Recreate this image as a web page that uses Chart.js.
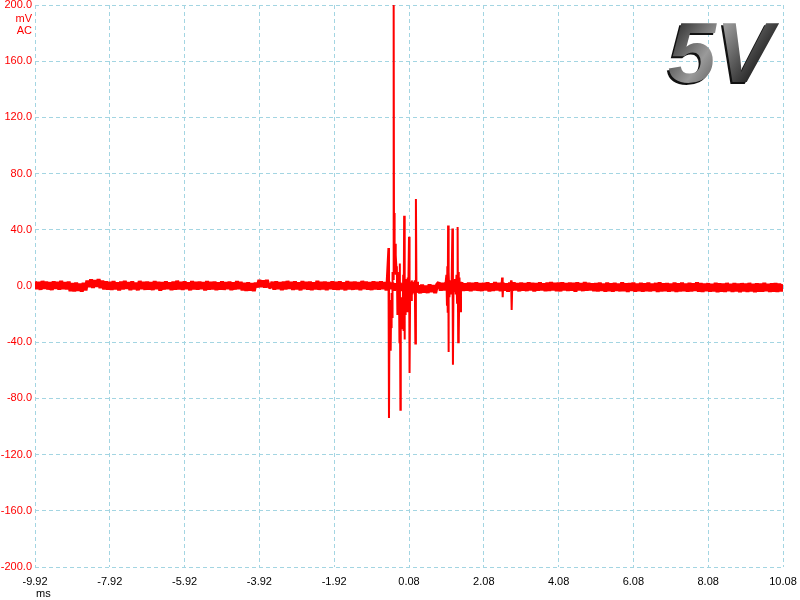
<!DOCTYPE html>
<html>
<head>
<meta charset="utf-8">
<script src="https://cdn.jsdelivr.net/npm/chart.js@4/dist/chart.umd.min.js"></script>
<style>
  html, body { margin: 0; padding: 0; background: #fff; }
  #wrap { width: 800px; height: 600px; }
</style>
</head>
<body>
<div id="wrap"><canvas id="chart" width="800" height="600"></canvas></div>
<script>
// sweep: one sample every 0.05 ms starting at -9.92 ms
const startMs = -9.92;
const stepMs = 0.05;

// channel A, mV
const trace = [
  3.2,-2.1,2.8,-2.6,3.5,-1.9,3.0,-2.4,2.6,-2.8,3.3,-2.0,2.9,-2.5,3.6,-2.2,2.7,-2.3,3.1,-3.6,
  1.9,-3.7,2.3,-3.4,1.6,-3.9,2.1,-3.1,3.9,-0.7,4.6,-1.2,4.1,-0.4,4.8,-1.4,3.7,-2.3,3.2,-2.6,
  2.9,-2.7,3.4,-2.2,2.5,-3.1,3.0,-2.4,3.6,-2.0,2.7,-2.9,3.2,-2.3,2.4,-3.0,3.5,-2.1,2.8,-2.6,
  3.1,-2.5,2.6,-2.8,3.4,-2.2,2.9,-3.2,2.7,-2.4,3.3,-2.0,2.5,-2.9,3.0,-2.6,3.7,-2.3,2.8,-2.7,
  3.2,-2.1,2.6,-3.0,3.5,-2.4,2.9,-2.6,3.1,-2.2,2.7,-3.1,3.4,-2.5,2.8,-2.3,3.0,-2.8,2.5,-2.4,
  3.3,-2.6,2.7,-2.2,3.1,-2.9,2.6,-2.4,3.4,-2.1,2.9,-3.1,2.2,-3.5,2.5,-3.2,2.0,-3.6,2.3,-0.8,
  4.2,-0.6,3.9,-1.0,4.3,-0.5,-0.9,2.9,-2.6,3.3,-2.2,2.7,-2.9,3.1,-2.4,3.5,-2.0,2.8,-2.7,3.2,
  -2.3,2.6,-3.0,3.4,-2.1,2.9,-2.5,3.0,-2.8,2.5,-2.2,3.6,-2.6,2.8,-2.4,3.1,-2.9,2.7,-2.1,3.3,
  -2.5,2.9,-2.7,3.2,-2.2,2.6,-3.0,3.4,-2.4,2.8,-2.6,3.1,-2.3,2.7,-2.9,3.5,-2.1,3.0,-2.5,2.6,
  -2.8,3.2,-2.3,2.9,-2.6,3.3,-2.2,2.7,-3.0,3.1,-2.0,2.4,-3.2,1.8,-2.6,2.2,-3.4,1.5,-2.8,2.0,
  -3.1,0.6,-4.8,1.0,-4.4,0.4,-5.1,0.9,-4.6,0.2,-4.9,1.1,-4.3,0.5,-5.0,0.8,2.4,-3.2,2.1,-3.0,
  2.6,-3.5,1.9,-3.1,2.3,-3.7,2.0,-2.9,2.5,-3.4,1.8,-3.2,2.4,-3.6,2.1,-3.0,2.6,-3.3,1.9,-3.5,
  2.2,-3.1,2.5,-3.8,1.9,-3.4,2.7,-3.0,2.1,-3.6,2.4,-3.2,1.8,-3.9,2.3,-3.3,2.6,-3.0,2.0,-3.7,
  2.4,-3.2,1.9,-3.5,2.6,-3.1,2.2,-3.8,2.0,-3.3,2.5,-3.0,1.8,-3.6,2.3,-3.4,2.7,-3.1,2.1,-3.5,
  2.3,-3.7,2.6,-3.0,1.9,-3.4,2.4,-3.2,2.1,-3.9,2.5,-3.1,2.0,-3.5,2.8,-3.3,2.2,-3.0,1.8,-3.6,
  2.0,-3.8,2.3,-3.4,1.7,-3.9,2.4,-3.5,1.9,-4.0,2.2,-3.3,1.6,-3.7,2.5,-3.6,1.8,-4.1,2.1,-3.4,
  2.3,-3.9,1.7,-3.5,2.2,-4.0,1.9,-3.6,2.4,-3.8,1.6,-3.4,2.1,-4.1,2.5,-3.7,1.8,-3.5,2.0,-3.9,
  1.7,-3.6,2.3,-4.2,1.9,-3.8,2.4,-3.5,1.6,-4.0,2.2,-3.7,1.8,-3.4,2.5,-3.9,2.0,-4.1,1.7,-3.6,
  1.9,-4.0,1.5,-3.7,2.2,-4.3,1.8,-3.9,1.6,-4.1,2.1,-3.6,1.4,-4.2,2.0,-3.8,1.7,-4.4,1.9,-3.7,
  1.6,-4.1,2.1,-3.8,1.5,-4.3,1.9,-3.9,1.7,-4.0,2.2,-3.6,1.4,-4.2,1.8,-3.9,2.0,-4.1,1.6,-3.8,
  1.2
];

// the ringing bursts, finer time resolution
const burstMs = [
  -0.52,-0.47,-0.455,-0.44,-0.43,-0.42,-0.41,-0.40,-0.39,-0.38,-0.37,-0.36,-0.345,-0.33,-0.32,-0.31,
  -0.30,-0.29,-0.28,-0.27,-0.255,-0.245,-0.23,-0.22,-0.205,-0.19,-0.175,-0.165,-0.15,-0.14,-0.13,-0.12,
  -0.11,-0.10,-0.09,-0.075,-0.065,-0.05,-0.04,-0.03,-0.02,-0.01,0.0,0.015,0.03,0.045,0.06,0.08,
  0.095,0.11,0.125,0.14,0.155,0.17,0.19,0.21,0.235,0.25,0.265,0.28,0.30,0.32,
  1.05,1.08,1.095,1.105,1.115,1.125,1.135,1.145,1.16,1.18,1.20,1.22,1.24,1.255,1.27,1.29,
  1.31,1.33,1.35,1.365,1.38,1.395,1.405,1.415,1.43,1.45,1.47,1.50,
  2.55,2.57,2.585,2.60,2.79,2.81,2.825,2.84
];
const burstMv = [
  1,27,-94,-10,-40,-24,-46,-20,-30,-5,-22,10,5,200,14,52,
  20,30,8,22,12,14,-20,10,-10,4,-40,16,-88,-10,-30,-8,
  -25,-15,-20,8,-32,50,-38,2,-20,5,-12,4,-18,6,-4,35,
  -62,-5,3,-10,4,-6,3,-3,4,-41,62,-2,3,-4,
  0,8,-14,14,-19,43,-47,10,-8,4,-6,3,41,-56,2,-4,
  5,-6,8,-12,42,-40,10,-35,6,-18,3,-2,
  0,6,-8,1,0,4,-17,-1
];

const xTicks = [-9.92, -7.92, -5.92, -3.92, -1.92, 0.08, 2.08, 4.08, 6.08, 8.08, 10.08];
const yTicks = [-200, -160, -120, -80, -40, 0, 40, 80, 120, 160, 200];

const gridColor = '#a3d5e2';
const gridDash = [4, 3];
const labelFont = { family: '"Liberation Sans", Arial, sans-serif', size: 11 };

const overlay = {
  id: 'overlay',
  afterDraw(chart) {
    const ctx = chart.ctx;
    ctx.save();
    ctx.font = '11px "Liberation Sans", Arial, sans-serif';
    ctx.textBaseline = 'middle';
    ctx.fillStyle = '#ff0000';
    ctx.textAlign = 'right';
    ctx.fillText('mV', 32, 19);
    ctx.fillText('AC', 32, 31);
    ctx.fillStyle = '#000';
    ctx.textAlign = 'left';
    ctx.fillText('ms', 36, 594);

    // big "5V" badge
    ctx.font = 'italic bold 86px "Liberation Sans", Arial, sans-serif';
    ctx.textBaseline = 'alphabetic';
    ctx.fillStyle = '#111';
    ctx.fillText('5V', 666, 84);
    const g = ctx.createLinearGradient(668, 20, 760, 84);
    g.addColorStop(0, '#1c1c1c');
    g.addColorStop(0.45, '#9a9a9a');
    g.addColorStop(0.7, '#5a5a5a');
    g.addColorStop(1, '#101010');
    ctx.fillStyle = g;
    ctx.fillText('5V', 668, 82);
    ctx.restore();
  }
};

new Chart(document.getElementById('chart'), {
  type: 'line',
  data: {
    datasets: [
      {
        data: burstMs.map((t, i) => ({ x: t, y: burstMv[i] })),
        borderColor: '#ff0000',
        borderWidth: 2,
        pointRadius: 0,
        tension: 0
      },
      {
        data: trace.map((v, i) => ({ x: startMs + i * stepMs, y: v })),
        borderColor: '#ff0000',
        borderWidth: 4,
        borderJoinStyle: 'bevel',
        pointRadius: 0,
        tension: 0
      }
    ]
  },
  options: {
    responsive: false,
    animation: false,
    layout: { padding: { left: 0, right: 17, top: 5, bottom: 0 } },
    plugins: {
      legend: { display: false },
      tooltip: { enabled: false }
    },
    scales: {
      x: {
        type: 'linear',
        min: -9.92,
        max: 10.08,
        afterBuildTicks: scale => { scale.ticks = xTicks.map(v => ({ value: v })); },
        afterFit: scale => { scale.height = 33; scale.paddingLeft = 0; scale.paddingRight = 0; },
        border: { display: false, dash: gridDash },
        grid: { color: gridColor, drawTicks: false },
        ticks: {
          color: '#000',
          font: labelFont,
          padding: 8,
          autoSkip: false,
          maxRotation: 0,
          callback: v => v.toFixed(2)
        }
      },
      y: {
        min: -200,
        max: 200,
        afterBuildTicks: scale => { scale.ticks = yTicks.map(v => ({ value: v })); },
        afterFit: scale => { scale.width = 35; scale.paddingTop = 0; scale.paddingBottom = 0; },
        border: { display: false, dash: gridDash },
        grid: { color: gridColor, drawTicks: false },
        ticks: {
          color: '#ff0000',
          font: labelFont,
          padding: 3,
          callback: v => v.toFixed(1)
        }
      }
    }
  },
  plugins: [overlay]
});
</script>
</body>
</html>
